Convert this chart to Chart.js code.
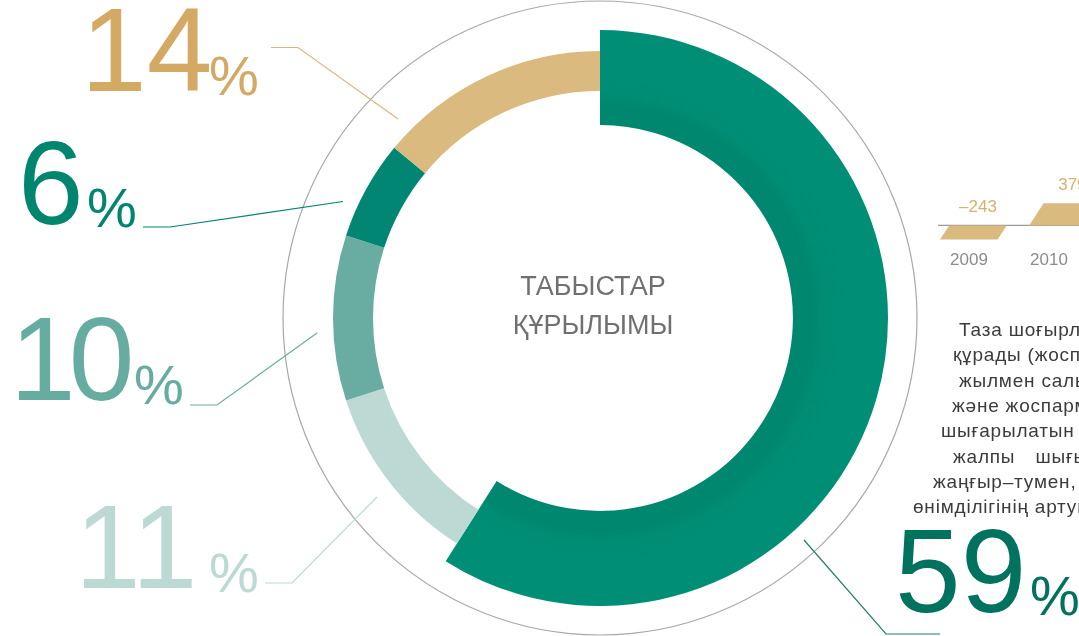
<!DOCTYPE html>
<html>
<head>
<meta charset="utf-8">
<script src="https://cdn.jsdelivr.net/npm/chart.js@4.4.1/dist/chart.umd.min.js"></script>
<style>
html, body { margin: 0; padding: 0; background: #fff; }
body { width: 1079px; height: 636px; overflow: hidden; position: relative; font-family: "Liberation Sans", Arial, sans-serif; }
#ring { position: absolute; left: 0; top: 0; }
#bars { position: absolute; left: 938px; top: 160px; }
#leaders { position: absolute; left: 0; top: 0; }
.big { position: absolute; line-height: 1; white-space: nowrap; }
.num { font-size: 118px; }
.pct { font-size: 56px; }
.title { position: absolute; left: 493px; top: 267px; width: 200px; text-align: center; font-size: 27px; line-height: 39px; color: #707070; }
.para { position: absolute; font-size: 19px; line-height: 19px; letter-spacing: 0.8px; color: #3c3c3c; white-space: nowrap; }
</style>
</head>
<body>
<canvas id="ring" width="1079" height="636"></canvas>
<svg id="leaders" width="1079" height="636"></svg>
<div class="title">ТАБЫСТАР<br>ҚҰРЫЛЫМЫ</div>
<canvas id="bars" width="160" height="114"></canvas>
<div id="text"></div>
<div id="labels"></div>
<script>
// ТАБЫСТАР ҚҰРЫЛЫМЫ
var parts = ['59%', '11%', '10%', '6%', '14%'];
var shares = [59, 11, 10, 6, 14];
var partColors = ['#008e75', '#bcd9d3', '#69ada2', '#008672', '#dbba80'];
var labelColors = ['#00725d', '#bcd9d3', '#67aca0', '#00866f', '#d4a964'];
var lineColors = ['#1f7f6c', '#bcd9d3', '#6aada1', '#00856f', '#d9b880'];

// net income bars (right side, cut off)
var years = ['2009', '2010'];
var netIncome = [-243, 379];

// layout of big labels: [numLeft, numTop, pctLeft, pctTop]
var labelPos = [
  [895, 512, 1030, 568],
  [75, 488, 209, 545],
  [10, 300, 134, 357],
  [18, 124, 87, 180],
  [81, -9, 209, 48]
];
var leaderPts = [
  '804,540 886,634 940,634',
  '265,583 292,583 377,497',
  '190,405 217,405 317,333',
  '143,227 170,227 343,201.5',
  '271,47.5 298,47.5 398,119'
];

var paraLines = [
  [959, 320, 'Таза шоғырландырылған табыс', 0],
  [953, 345, 'құрады (жоспар бойынша', 0],
  [959, 371, 'жылмен салыстырғанда', 0],
  [952, 396, 'және жоспармен', 0],
  [941, 421, 'шығарылатын өнім', 0],
  [953, 447, 'жалпы шығындар', 14],
  [933, 472, 'жаңғыр–тумен, сондай-ақ', 0],
  [913, 497, 'өнімділігінің артуымен', 0]
];

var labelsBox = document.getElementById('labels');
shares.forEach(function (v, i) {
  var p = labelPos[i];
  var n = document.createElement('div');
  n.className = 'big num';
  n.style.left = p[0] + 'px';
  n.style.top = p[1] + 'px';
  n.style.color = labelColors[i];
  if (v === 10) n.style.letterSpacing = '-7px';
  n.textContent = String(v);
  labelsBox.appendChild(n);
  var s = document.createElement('div');
  s.className = 'big pct';
  s.style.left = p[2] + 'px';
  s.style.top = p[3] + 'px';
  s.style.color = labelColors[i];
  s.textContent = '%';
  labelsBox.appendChild(s);
});

var svg = document.getElementById('leaders');
leaderPts.forEach(function (pts, i) {
  var pl = document.createElementNS('http://www.w3.org/2000/svg', 'polyline');
  pl.setAttribute('points', pts);
  pl.setAttribute('fill', 'none');
  pl.setAttribute('stroke', lineColors[i]);
  pl.setAttribute('stroke-width', '1.2');
  svg.appendChild(pl);
});

var textBox = document.getElementById('text');
paraLines.forEach(function (l) {
  var d = document.createElement('div');
  d.className = 'para';
  d.style.left = l[0] + 'px';
  d.style.top = l[1] + 'px';
  if (l[3]) d.style.wordSpacing = l[3] + 'px';
  d.textContent = l[2];
  textBox.appendChild(d);
});

// thick main segment, thinner rest, thin grey frame circle
var ringPlugin = {
  id: 'ringPlugin',
  afterDatasetsUpdate: function (chart) {
    chart.getDatasetMeta(0).data.forEach(function (arc, i) {
      if (i > 0) { arc.outerRadius = 267; arc.innerRadius = 227; }
    });
  },
  beforeDatasetsDraw: function (chart) {
    var arc = chart.getDatasetMeta(0).data[0];
    var ctx = chart.ctx;
    ctx.save();
    ctx.beginPath();
    ctx.arc(arc.x, arc.y, 317, 0, Math.PI * 2);
    ctx.strokeStyle = '#a8a8a8';
    ctx.lineWidth = 1.2;
    ctx.stroke();
    ctx.restore();
  }
};

var ctx1 = document.getElementById('ring').getContext('2d');
var ring = new Chart(ctx1, {
  type: 'doughnut',
  data: {
    labels: parts,
    datasets: [{
      data: shares,
      borderWidth: 0,
      backgroundColor: function (c) {
        var area = c.chart.chartArea;
        if (c.dataIndex !== 0 || !area) return partColors[c.dataIndex];
        var cx = (area.left + area.right) / 2, cy = (area.top + area.bottom) / 2;
        var g = c.chart.ctx.createRadialGradient(cx, cy, 213, cx, cy, 288);
        g.addColorStop(0, '#00876f');
        g.addColorStop(0.15, '#008d75');
        g.addColorStop(1, '#008f76');
        return g;
      }
    }]
  },
  options: {
    responsive: false,
    animation: false,
    devicePixelRatio: 1,
    radius: 288,
    cutout: 213,
    layout: { padding: { left: 121 } },
    plugins: { legend: { display: false }, tooltip: { enabled: false } }
  },
  plugins: [ringPlugin]
});

// slanted bars with a zero line
var skew = 0.65;
var skewPlugin = {
  id: 'skewPlugin',
  beforeDatasetsDraw: function (chart) {
    var ctx = chart.ctx;
    var y0 = chart.scales.y.getPixelForValue(0);
    ctx.save();
    ctx.beginPath();
    ctx.moveTo(chart.chartArea.left, y0);
    ctx.lineTo(chart.chartArea.right, y0);
    ctx.strokeStyle = '#9a9a9a';
    ctx.lineWidth = 1.2;
    ctx.stroke();
    ctx.restore();
    ctx.save();
    ctx.transform(1, 0, -skew, 1, skew * y0, 0);
  },
  afterDatasetsDraw: function (chart) {
    var ctx = chart.ctx;
    ctx.restore();
    var y0 = chart.scales.y.getPixelForValue(0);
    ctx.save();
    ctx.font = '17px "Liberation Sans", Arial';
    ctx.fillStyle = '#d6b070';
    ctx.textAlign = 'center';
    ctx.textBaseline = 'middle';
    chart.getDatasetMeta(0).data.forEach(function (bar, i) {
      var v = netIncome[i];
      var top = Math.min(bar.y, y0);
      var x = bar.x + skew * (y0 - top);
      ctx.fillText(v < 0 ? '\u2013' + Math.abs(v) : String(v), x, top - 18);
    });
    ctx.restore();
  }
};

var ctx2 = document.getElementById('bars').getContext('2d');
var bars = new Chart(ctx2, {
  type: 'bar',
  data: {
    labels: years,
    datasets: [{
      data: netIncome,
      backgroundColor: '#dbba80',
      borderWidth: 0,
      barPercentage: 0.72,
      categoryPercentage: 1
    }]
  },
  options: {
    responsive: false,
    animation: false,
    devicePixelRatio: 1,
    plugins: { legend: { display: false }, tooltip: { enabled: false } },
    scales: {
      x: {
        grid: { display: false, drawTicks: false },
        border: { display: false },
        ticks: { color: '#8c8c8c', font: { size: 17, family: 'Liberation Sans' }, labelOffset: -9, padding: 3 }
      },
      y: {
        display: false,
        min: -380,
        max: 1120
      }
    }
  },
  plugins: [skewPlugin]
});
</script>
</body>
</html>
